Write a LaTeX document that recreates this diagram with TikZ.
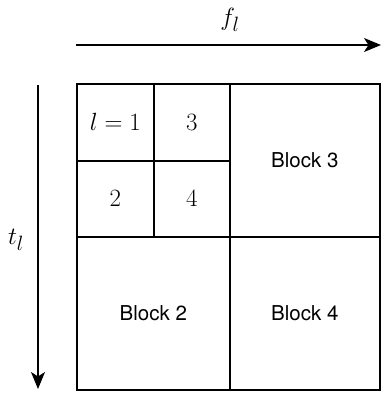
\documentclass[tikz,border=0pt]{standalone}
\usepackage{fontspec}
\setsansfont{TeX Gyre Heros}
\usetikzlibrary{arrows.meta}
\tikzset{
  cell/.style={draw, line width=1.6pt, inner sep=0pt, anchor=north west},
  blocklabel/.style={font=\sffamily\fontsize{20.5}{24}\selectfont},
  mathlabel/.style={font=\fontsize{25}{28}\selectfont},
  axislabel/.style={font=\fontsize{28}{32}\selectfont},
  axis/.style={line width=1.6pt, -{Stealth[length=17pt, width=14pt, inset=4.5pt]}}
}
\begin{document}
\begin{tikzpicture}[x=1pt, y=-1pt]
\useasboundingbox (0,0) rectangle (381,394);
% cells
\node[cell, minimum width=77pt, minimum height=77pt] (c1) at (76,83) {};
\node[cell, minimum width=76pt, minimum height=77pt] (c3) at (153,83) {};
\node[cell, minimum width=77pt, minimum height=76pt] (c2) at (76,160) {};
\node[cell, minimum width=76pt, minimum height=76pt] (c4) at (153,160) {};
\node[cell, minimum width=150pt, minimum height=153pt] (b3) at (229,83) {};
\node[cell, minimum width=153pt, minimum height=153pt] (b2) at (76,236) {};
\node[cell, minimum width=150pt, minimum height=153pt] (b4) at (229,236) {};
% labels
\node[mathlabel] (l1) at (c1.center) {$l=1$};
\node[mathlabel] (l3) at (c3.center) {$3$};
\node[mathlabel] (l2) at (c2.center) {$2$};
\node[mathlabel] (l4) at (c4.center) {$4$};
\node[blocklabel] (lb3) at (b3.center) {Block 3};
\node[blocklabel] (lb2) at (b2.center) {Block 2};
\node[blocklabel] (lb4) at (b4.center) {Block 4};
% axes
\coordinate (fa) at (76,45);
\coordinate (fb) at (381,45);
\draw[axis] (fa) -- (fb);
\node[axislabel] (fl) at (230,20) {$f_l$};
\coordinate (ta) at (38,85);
\coordinate (tb) at (38,389);
\draw[axis] (ta) -- (tb);
\node[axislabel] (tl) at (16,240) {$t_l$};
\end{tikzpicture}
\end{document}
